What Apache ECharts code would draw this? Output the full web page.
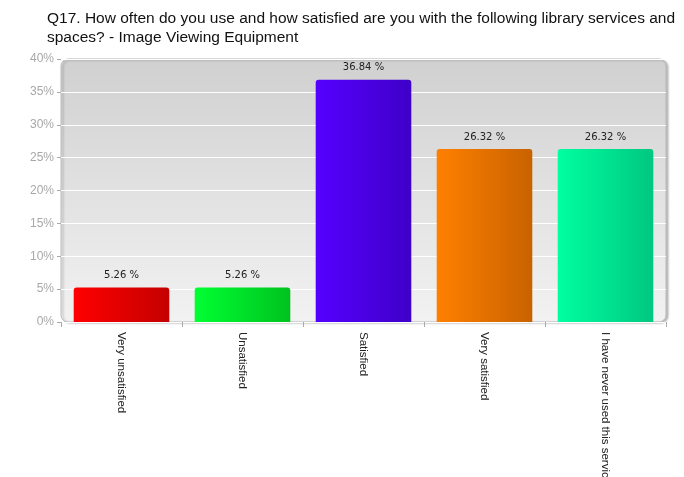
<!DOCTYPE html>
<html>
<head>
<meta charset="utf-8">
<script src="https://cdn.jsdelivr.net/npm/echarts@6/dist/echarts.min.js"></script>
<style>
  html, body { margin: 0; padding: 0; background: #fff; }
  #chart { width: 684px; height: 477px; }
</style>
</head>
<body>
<div id="chart"></div>
<script>
// Survey answers and their share of respondents (%)
const categories = ['Very unsatisfied', 'Unsatisfied', 'Satisfied', 'Very satisfied', 'I have never used this service'];
const values = [5.26, 5.26, 36.84, 26.32, 26.32];
// Bar colours: light edge -> dark edge of each bar's horizontal gradient
const barLight = ['#ff0000', '#00ff33', '#5500ff', '#ff8000', '#00ffa0'];
const barDark = ['#c40000', '#00c21f', '#3f00c8', '#c86200', '#00c781'];
const yTicks = [0, 5, 10, 15, 20, 25, 30, 35, 40];

const gridBox = { left: 61, top: 59, right: 18, bottom: 155, outerBoundsMode: 'none' };

const chart = echarts.init(document.getElementById('chart'), null, { renderer: 'canvas' });
const W = chart.getWidth(), H = chart.getHeight();

const data = values.map((v, i) => ({
  value: v,
  itemStyle: {
    color: new echarts.graphic.LinearGradient(0, 0, 1, 0, [
      { offset: 0, color: barLight[i] },
      { offset: 1, color: barDark[i] }
    ])
  }
}));

chart.setOption({
  animation: false,
  title: {
    text: 'Q17. How often do you use and how satisfied are you with the following library services and\nspaces? - Image Viewing Equipment',
    left: 42,
    top: 4,
    textStyle: {
      fontFamily: 'Liberation Sans, Arial, sans-serif',
      fontSize: 15.5,
      fontWeight: 'normal',
      color: '#111',
      lineHeight: 19
    }
  },
  graphic: [{
    type: 'rect',
    z: -10,
    silent: true,
    shape: {
      x: gridBox.left,
      y: gridBox.top,
      width: W - gridBox.left - gridBox.right,
      height: H - gridBox.top - gridBox.bottom,
      r: 7
    },
    style: {
      fill: new echarts.graphic.LinearGradient(0, 0, 0, 1, [
        { offset: 0, color: '#d0d0d0' },
        { offset: 1, color: '#f2f2f2' }
      ]),
      stroke: '#b8b8b8',
      lineWidth: 1,
      shadowColor: 'rgba(0,0,0,0.25)',
      shadowBlur: 2,
      shadowOffsetX: 2,
      shadowOffsetY: 1
    }
  }],
  grid: gridBox,
  xAxis: {
    type: 'category',
    data: categories,
    axisLine: { show: false },
    axisTick: { show: true, alignWithLabel: false, length: 5, lineStyle: { color: '#aaa' } },
    axisLabel: {
      rotate: -90,
      interval: 0,
      margin: 10,
      fontFamily: 'Liberation Sans, Arial, sans-serif',
      fontSize: 11.5,
      color: '#222'
    }
  },
  yAxis: {
    type: 'value',
    min: 0,
    max: 40,
    interval: 5,
    axisLine: { show: false },
    axisTick: { show: true, length: 4, lineStyle: { color: '#aaa' } },
    splitLine: { show: true, lineStyle: { color: '#ffffff', width: 1 } },
    axisLabel: {
      formatter: v => yTicks.includes(v) ? v + '%' : '',
      fontFamily: 'Liberation Sans, Arial, sans-serif',
      fontSize: 12,
      color: '#a8a8a8',
      margin: 7
    }
  },
  series: [{
    type: 'bar',
    data: data,
    barCategoryGap: '21%',
    itemStyle: { borderRadius: [3, 3, 0, 0] },
    label: {
      show: true,
      position: 'top',
      distance: 7,
      formatter: p => p.value.toFixed(2) + ' %',
      fontFamily: 'DejaVu Sans, sans-serif',
      fontSize: 10,
      color: '#222'
    }
  }]
});
</script>
</body>
</html>
